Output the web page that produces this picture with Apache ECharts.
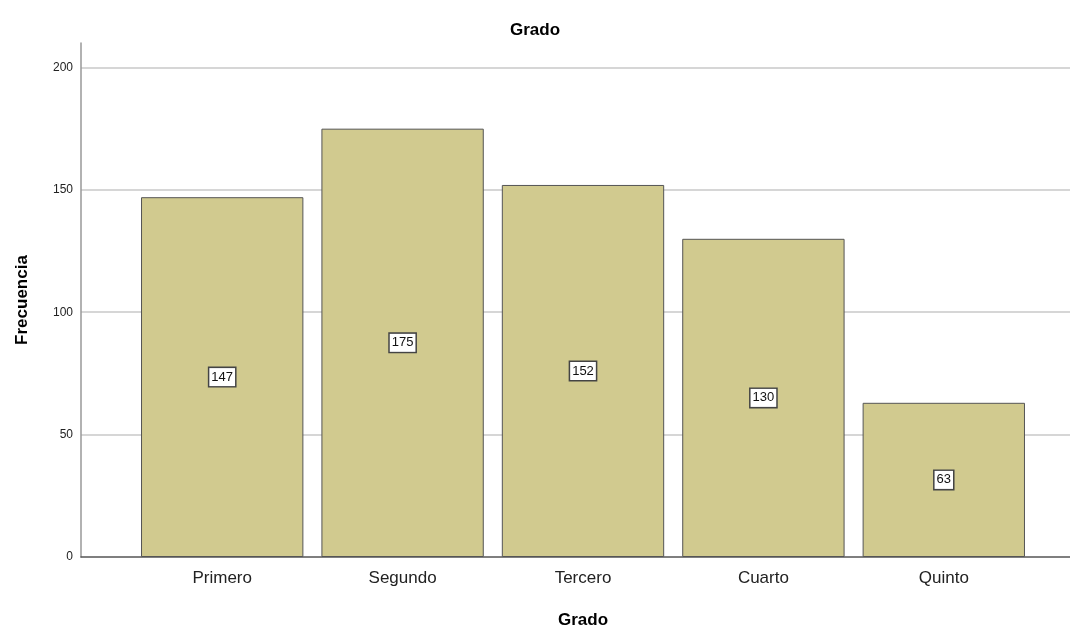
<!DOCTYPE html>
<html>
<head>
<meta charset="utf-8">
<script src="https://cdn.jsdelivr.net/npm/echarts@6/dist/echarts.min.js"></script>
<style>
  html, body { margin: 0; padding: 0; background: #fff; }
  #chartDom { width: 1070px; height: 630px; }
</style>
</head>
<body>
<div id="chartDom"></div>
<script>
// datos
const categorias = ['Primero', 'Segundo', 'Tercero', 'Cuarto', 'Quinto'];
const frecuencias = [147, 175, 152, 130, 63];
const yTicks = [0, 50, 100, 150, 200];

const font = 'Liberation Sans, Arial, sans-serif';
const yMax = 210;

const option = {
  animation: false,
  title: {
    text: 'Grado',
    left: 'center',
    top: 17,
    textStyle: { fontFamily: font, fontSize: 17, fontWeight: 'bold', color: '#000' }
  },
  // grid 0: eje Y, lineas de cuadricula; grid 1: barras
  grid: [
    { left: 81, right: 0, top: 43, bottom: 73, outerBoundsMode: 'none', containLabel: false },
    { left: 132, right: 36, top: 43, bottom: 73, outerBoundsMode: 'none', containLabel: false }
  ],
  xAxis: [
    {
      gridIndex: 0,
      type: 'value',
      min: 0,
      max: 1,
      axisLine: { show: true, lineStyle: { color: '#555', width: 1.5 } },
      axisTick: { show: false },
      axisLabel: { show: false },
      splitLine: { show: false }
    },
    {
      gridIndex: 1,
      type: 'category',
      data: categorias,
      name: 'Grado',
      nameLocation: 'middle',
      nameGap: 55,
      nameTextStyle: { fontFamily: font, fontSize: 17, fontWeight: 'bold', color: '#000' },
      axisLine: { show: false },
      axisTick: { show: false },
      axisLabel: { fontFamily: font, fontSize: 17, color: '#222', margin: 13 }
    }
  ],
  yAxis: [
    {
      gridIndex: 0,
      type: 'value',
      min: 0,
      max: yMax,
      interval: 50,
      name: 'Frecuencia',
      nameLocation: 'middle',
      nameGap: 50,
      nameRotate: 90,
      nameTextStyle: { fontFamily: font, fontSize: 17, fontWeight: 'bold', color: '#000' },
      axisLine: { show: true, lineStyle: { color: '#999', width: 1.5 } },
      axisTick: { show: false },
      axisLabel: {
        fontFamily: font, fontSize: 12, color: '#222', margin: 8,
        showMaxLabel: false,
        formatter: v => yTicks.includes(v) ? String(v) : ''
      },
      splitLine: { show: true, showMaxLine: false, showMinLine: false, lineStyle: { color: '#c8c8c8', width: 1.5 } }
    },
    {
      gridIndex: 1,
      type: 'value',
      min: 0,
      max: yMax,
      interval: 50,
      show: false,
      splitLine: { show: false }
    }
  ],
  series: [
    {
      type: 'bar',
      xAxisIndex: 1,
      yAxisIndex: 1,
      data: frecuencias,
      barCategoryGap: '10%',
      itemStyle: { color: '#d1ca8f', borderColor: '#555', borderWidth: 1 },
      label: {
        show: true,
        position: 'inside',
        fontFamily: font,
        fontSize: 13,
        color: '#111',
        backgroundColor: '#fff',
        borderColor: '#444',
        borderWidth: 1.5,
        padding: [3, 2, 2, 2]
      }
    }
  ]
};

const myChart = echarts.init(document.getElementById('chartDom'));
myChart.setOption(option);
</script>
</body>
</html>
